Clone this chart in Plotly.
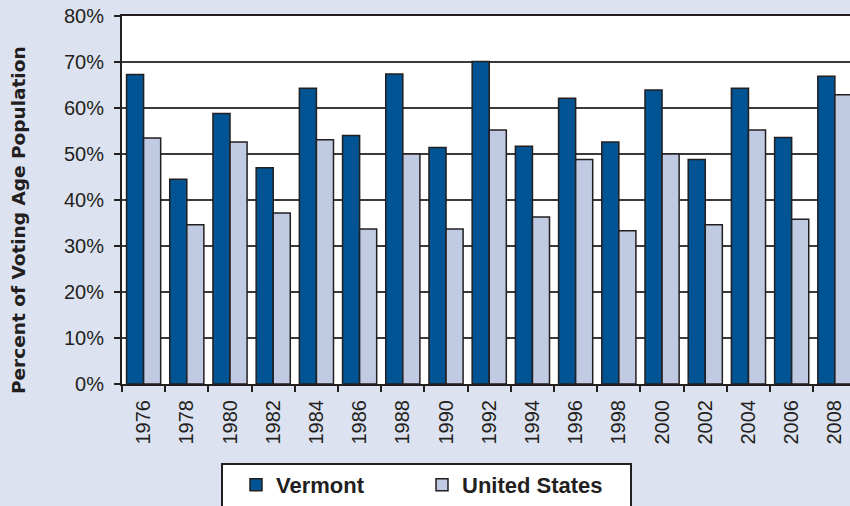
import plotly.graph_objects as go

years = ["1976", "1978", "1980", "1982", "1984", "1986", "1988", "1990", "1992",
         "1994", "1996", "1998", "2000", "2002", "2004", "2006", "2008"]
vermont = [67.3, 44.5, 58.8, 47.0, 64.3, 54.0, 67.4, 51.4, 70.1,
           51.7, 62.1, 52.6, 63.9, 48.8, 64.3, 53.6, 66.9]
united_states = [53.5, 34.6, 52.6, 37.2, 53.1, 33.7, 50.0, 33.7, 55.2,
                 36.3, 48.8, 33.3, 50.0, 34.6, 55.2, 35.8, 62.9]
y_title = "Percent of Voting Age Population"

BG = "#dde2f0"
DARK = "#005493"
LIGHT = "#c0cae2"
INK = "#231f20"
FONT = "Liberation Sans, Arial, sans-serif"

fig = go.Figure()
fig.add_trace(go.Bar(x=years, y=vermont, name="Vermont",
                     marker=dict(color=DARK, line=dict(color=INK, width=1.5))))
fig.add_trace(go.Bar(x=years, y=united_states, name="United States",
                     marker=dict(color=LIGHT, line=dict(color=INK, width=1.5))))

W, H = 850, 506
L, T, B = 122, 16, 122
ph = H - T - B
pw = W - L

# legend box (cut off at the bottom, as in the reference)
fig.add_shape(type="rect", xref="paper", yref="paper",
              x0=(222 - L) / pw, x1=(631 - L) / pw,
              y0=-(520 - (H - B)) / ph, y1=-(464 - (H - B)) / ph,
              fillcolor="white", line=dict(color=INK, width=2), layer="above")

# y-axis title
fig.add_annotation(text=y_title, xref="paper", yref="paper",
                   x=(18 - L) / pw, y=(H - B - 220) / ph,
                   xanchor="center", yanchor="middle", textangle=-90,
                   showarrow=False,
                   font=dict(family="DejaVu Sans, sans-serif", size=18.5,
                             color=INK, weight="bold"))

fig.update_layout(
    width=W, height=H,
    margin=dict(l=L, r=0, t=T, b=B, autoexpand=False),
    paper_bgcolor=BG, plot_bgcolor="white",
    barmode="group", bargap=0.21, bargroupgap=0,
    font=dict(family=FONT, color=INK, size=20),
    showlegend=True,
    legend=dict(orientation="h", x=(236 - L) / pw, xanchor="left",
                y=-(464 - (H - B)) / ph, yanchor="top",
                bgcolor="rgba(0,0,0,0)", borderwidth=0,
                font=dict(family=FONT, size=22, color=INK, weight="bold"),
                entrywidth=141, entrywidthmode="pixels", traceorder="normal"),
    xaxis=dict(type="category", range=[-0.5, 16.35],
               showline=True, linecolor=INK, linewidth=2, mirror=True,
               ticks="outside", tickson="boundaries", ticklen=6, tickwidth=2,
               tickcolor=INK, tickangle=-90, showgrid=False,
               ticklabelstandoff=6,
               tickfont=dict(size=20, color=INK)),
    yaxis=dict(range=[0, 80], dtick=10, ticksuffix="%",
               showline=True, linecolor=INK, linewidth=2,
               ticks="outside", ticklen=6, tickwidth=2, tickcolor=INK,
               showgrid=True, gridcolor="#3a3a3a", gridwidth=1.5,
               zeroline=False, ticklabelstandoff=6,
               tickfont=dict(size=20, color=INK)),
)

fig.write_html("out.html",
               config={"displayModeBar": False},
               post_script="document.body.style.margin='0';"
                           "document.body.style.background='" + BG + "';")
